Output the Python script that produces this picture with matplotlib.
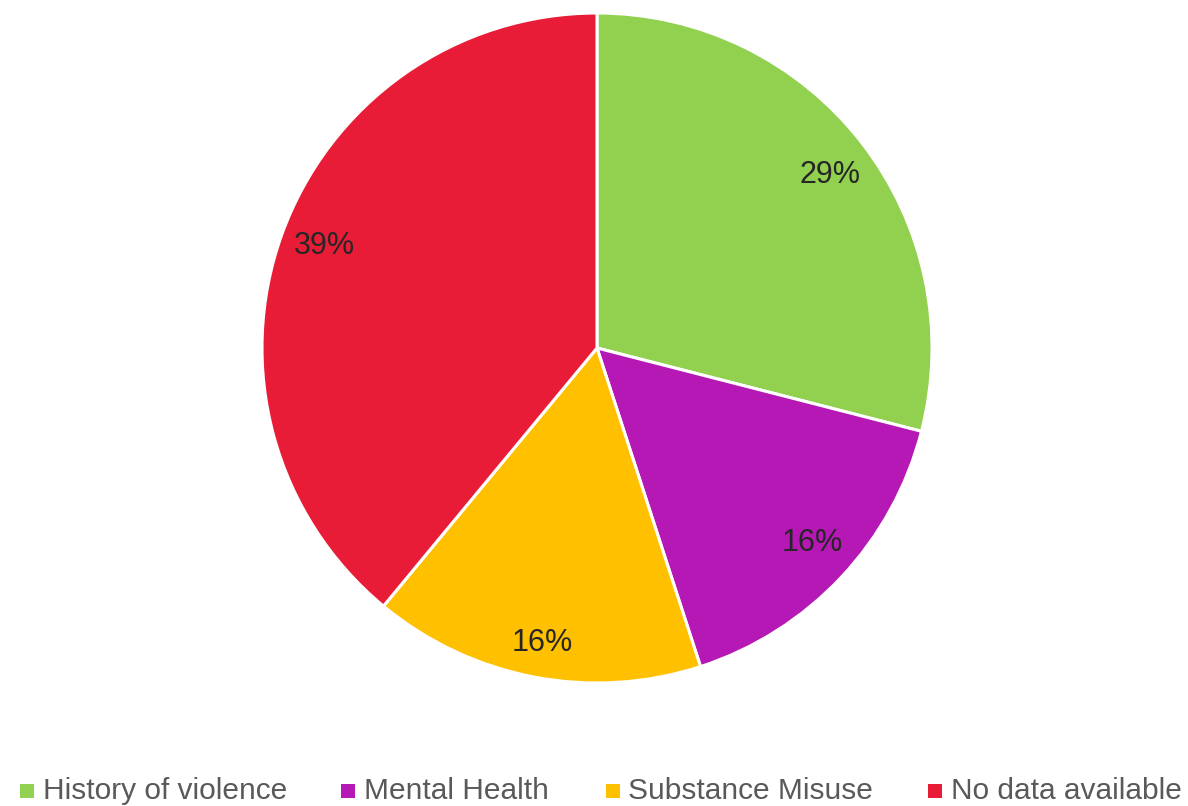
import matplotlib
matplotlib.use("Agg")
import matplotlib.pyplot as plt

# chart data
categories = ["History of violence", "Mental Health", "Substance Misuse", "No data available"]
shares = [29, 16, 16, 39]
colors = ["#92D050", "#B518B4", "#FFC000", "#E91C37"]

fig = plt.figure(figsize=(11.88, 8.06), dpi=100)
W, H = 1188, 806

# pie axes placed so the circle sits where the reference has it
cx, cy, r = 597, 348, 335
ax = fig.add_axes([(cx - r) / W, (H - cy - r) / H, 2 * r / W, 2 * r / H])

wedges, texts, autotexts = ax.pie(
    shares,
    colors=colors,
    startangle=90,
    counterclock=False,
    radius=1.0,
    autopct="%d%%",
    pctdistance=0.88,
    wedgeprops=dict(edgecolor="white", linewidth=2.2),
    textprops=dict(fontsize=22, color="#262626", family=["Liberation Sans", "DejaVu Sans"]),
)
# small nudges (pixels, x right / y down) to match the label spots of the original
nudges = [(0, 4), (0, -10), (0, 2), (5, -6)]
for t, (dx, dy) in zip(autotexts, nudges):
    t.set_va("center_baseline")
    x, y = t.get_position()
    t.set_position((x + dx / r, y - dy / r))
ax.set_xlim(-1, 1)
ax.set_ylim(-1, 1)
ax.set_aspect("equal")

# legend drawn by hand in pixel coordinates (top-left origin)
leg = fig.add_axes([0, 0, 1, 1])
leg.set_xlim(0, W)
leg.set_ylim(H, 0)
leg.axis("off")
marker_x = [27, 348, 613, 935]
text_x = [43, 364, 628, 951]
for mx, tx, c, name in zip(marker_x, text_x, colors, categories):
    leg.scatter([mx], [791], marker="s", s=95, color=c, linewidths=0)
    leg.text(tx, 799, name, fontsize=21.5, color="#595959", va="baseline", ha="left",
             family=["Liberation Sans", "DejaVu Sans"])

fig.savefig("out.png", dpi=100)
